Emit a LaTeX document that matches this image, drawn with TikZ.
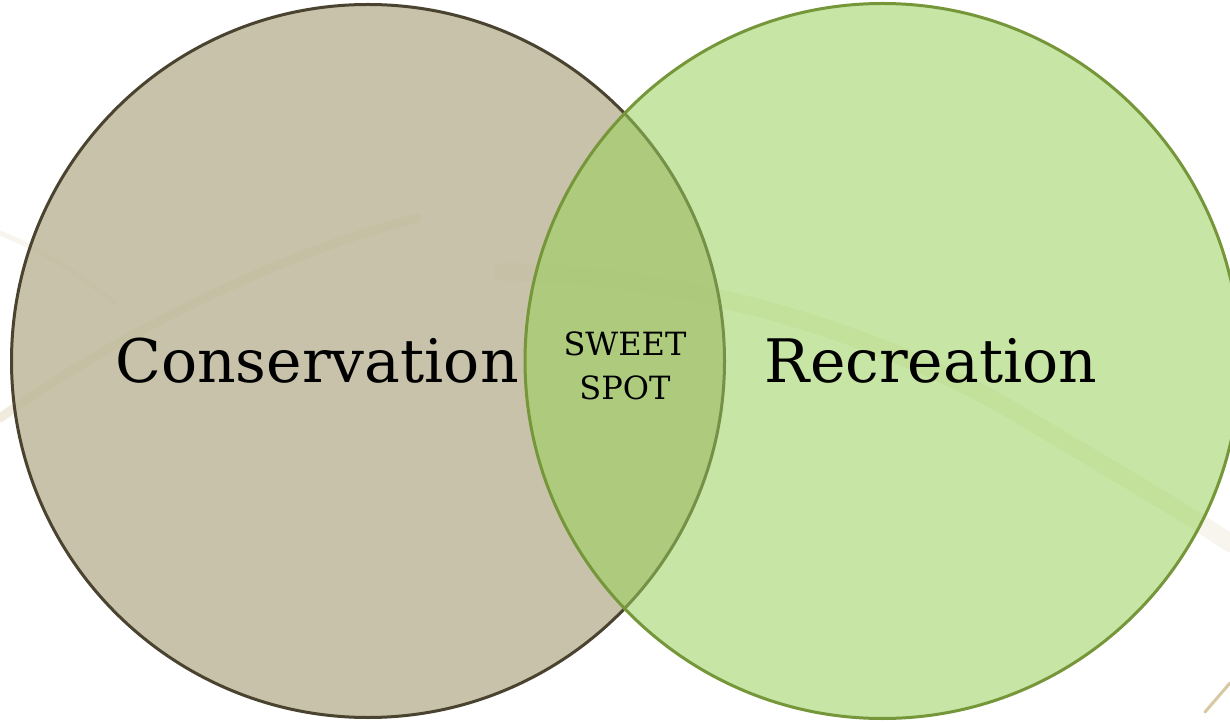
\documentclass[tikz,border=0pt]{standalone}
\usepackage{fontspec}
\setmainfont{DejaVu Serif}
\definecolor{consfill}{RGB}{190,184,154}
\definecolor{consborder}{RGB}{74,67,48}
\definecolor{recfill}{RGB}{154,209,90}
\definecolor{recborder}{RGB}{118,150,58}
\definecolor{swooshtan}{RGB}{200,178,122}

\begin{document}
\begin{tikzpicture}[x=1pt,y=1pt,
        set node/.style={circle,line width=3pt,minimum size=#1,inner sep=0pt},
        big label/.style={font=\fontsize{60}{72}\selectfont,anchor=base},
        small label/.style={font=\fontsize{32}{44}\selectfont,align=center,anchor=base},
        swoosh/.style={draw=swooshtan,line cap=round,opacity=0.3}]

    \clip (0,0) rectangle (1230,723);
    \fill[white] (0,0) rectangle (1230,723);

    % faint swooshes behind
    \draw[swoosh,line width=9pt,opacity=0.25] (0,305) .. controls (120,390) and (280,470) .. (417,505);
    \draw[swoosh,line width=5pt,opacity=0.12] (0,490) .. controls (50,470) and (90,440) .. (115,420);
    \draw[swoosh,line width=18pt,opacity=0.12] (502,451) .. controls (700,450) and (900,380) .. (1020,308)
        .. controls (1100,260) and (1170,220) .. (1230,180);
    \draw[swoosh,line width=3pt,opacity=0.7] (1205,11) -- (1230,40);

    % the two sets
    \node[set node=713pt,draw=consborder,fill=consfill,fill opacity=0.85] (cons) at (368,362) {};
    \node[set node=715pt,draw=recborder,fill=recfill,fill opacity=0.55] (rec) at (882.5,362) {};

    \node[big label] (conslbl) at (317,340) {Conservation};
    \node[big label] (reclbl) at (931,340) {Recreation};
    \node[small label] (sweet) at (625,323) {SWEET\\SPOT};

\end{tikzpicture}
\end{document}
